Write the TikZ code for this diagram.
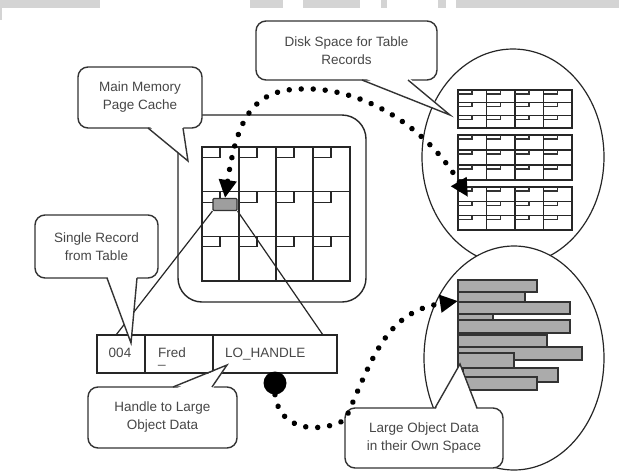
\documentclass[tikz,border=0pt]{standalone}
\usepackage{fontspec}
\setmainfont{Liberation Sans}
\usetikzlibrary{arrows.meta}

% tail of a speech-bubble callout: base points x1,x2 on edge y, inner y, tip
\newcommand\calltail[5]{%
  \fill[white] (#1,#4) -- #5 -- (#2,#4) -- cycle;
  \draw[tailline] (#1,#3) -- #5 -- (#2,#3);}

\begin{document}
\begin{tikzpicture}[x=1pt,y=-1pt,
  ink/.style={draw=black!85, line width=1.2pt},
  tabmark/.style={draw=black!80, line width=1.6pt},
  labeltext/.style={text=black!72, font=\fontsize{13.5}{18}\selectfont},
  callout/.style={draw=black!80, fill=white, line width=1.4pt, rounded corners=10pt,
    inner sep=0pt, align=center, labeltext},
  tailline/.style={draw=black!80, line width=1.4pt, line join=miter},
  cellbox/.style={draw=black!85, line width=1.2pt, inner sep=0pt, minimum height=38pt},
  lobar/.style={draw=black!80, fill=black!33, line width=1.1pt},
  dotpath/.style={black, line width=5.5pt, line cap=round, dash pattern=on 0.01pt off 12pt},
  bigtip/.style={-{Triangle[length=18pt,width=17pt]}},
  twotips/.style={{Triangle[length=18pt,width=17pt]}-{Triangle[length=18pt,width=17pt]}}
]
\useasboundingbox (0,0) rectangle (619,472);
\fill[white] (0,0) rectangle (619,472);

% grey header band with its lighter lettering
\fill[black!17] (0,0) rectangle (100,8);
\fill[black!17] (250,0) rectangle (283,8);
\fill[black!17] (303,0) rectangle (360,8);
\fill[black!17] (381,0) rectangle (387,8);
\fill[black!17] (438,0) rectangle (446,8);
\fill[black!17] (456,0) rectangle (619,8);
\fill[black!17] (0,8) rectangle (2,20);

% ---------- disk space for table records ----------
\draw[ink] (513,157) ellipse [x radius=91, y radius=108];
\foreach \top/\bot in {90/128, 135/180, 187/230}{
  \pgfmathsetmacro\rh{(\bot-\top)/3}
  \foreach \c in {0,1,2,3}{
    \pgfmathsetmacro\xl{458+28.5*\c}
    \foreach \r in {0,1,2}{
      \draw[ink] (\xl,\top+\r*\rh) rectangle ++(28.5,\rh);
      \draw[tabmark] (\xl,\top+\r*\rh+4) -- ++(14,0) -- ++(0,-4);
    }
  }
}

% ---------- large object storage ----------
\draw[ink, fill=white] (514,358) ellipse [x radius=90, y radius=112];
\foreach \xa/\ya/\xb/\yb in {458/280/537/292, 458/292/525/302, 458/302/570/314,
    458/314/493/320, 458/320/570/333, 458/335/547/347, 458/347/582/360,
    458/353/514/368, 463/368/558/382, 463/377/537/390}
  \draw[lobar] (\xa,\ya) rectangle (\xb,\yb);
\coordinate (lobhit) at (458,301);

% ---------- main memory page cache ----------
\draw[ink, line width=1.4pt, rounded corners=24pt] (178,115) rectangle (366,302);
\foreach \c in {0,1,2,3}{
  \pgfmathsetmacro\xl{202+37*\c}
  \foreach \r in {0,1,2}{
    \pgfmathsetmacro\yt{147+44.667*\r}
    \draw[ink] (\xl,\yt) rectangle ++(37,44.667);
    \draw[ink] (\xl,\yt+10.5) -- ++(18,0) -- ++(0,-10.5);
  }
}
\node[draw=black!80, fill=black!38, line width=1.1pt, rounded corners=1pt,
  minimum width=24pt, minimum height=12pt, inner sep=0pt] (cached) at (225,204.5) {};
\coordinate (diskhit) at (468,197);

% ---------- one record of the table ----------
\node[cellbox, minimum width=48pt]  (rid)     at (121,354) {};
\node[cellbox, minimum width=68pt]  (rname)   at (179,354) {};
\node[cellbox, minimum width=124pt] (rhandle) at (275,354) {};
\node[labeltext, anchor=base, inner sep=0pt] (tid) at (120,357) {004};
\node[labeltext, anchor=base west, inner sep=0pt] (tname) at (158,357)
  {\rlap{\raisebox{-6pt}{\_}}Fred};
\node[labeltext, anchor=base west, inner sep=0pt] (thandle) at (225,357) {LO\_HANDLE};

% magnification lines from the cached record to the full record
\coordinate (zoomleft)  at (116,335);
\coordinate (zoomright) at (323,335);
\draw[ink] (cached.south west) -- (zoomleft);
\draw[ink] (cached.south east) -- (zoomright);

% handle marker
\node[circle, fill=black, minimum size=23pt, inner sep=0pt] (handledot) at (275,383) {};

% ---------- callouts ----------
\node[callout, minimum width=181pt, minimum height=59pt] (cdisk) at (346.5,50.5)
  {Disk Space for Table\\Records};
\calltail{362}{408}{80}{77}{(450,115)}

\node[callout, minimum width=124pt, minimum height=61pt] (cmem) at (140,97.5)
  {Main Memory\\Page Cache};
\calltail{148}{183}{128}{125}{(188,161)}

\node[callout, minimum width=123pt, minimum height=63pt] (crec) at (96.5,246.5)
  {Single Record\\from Table};
\calltail{107}{137}{278}{275}{(131,343)}

\node[callout, minimum width=149pt, minimum height=61pt] (chandle) at (162.5,417.5)
  {Handle to Large\\Object Data};
\calltail{173}{212}{387}{390}{(227,365)}

\node[callout, minimum width=158pt, minimum height=60pt] (clob) at (424,438)
  {Large Object Data\\in their Own Space};
\calltail{435}{477}{408}{411}{(460,364)}

% ---------- dotted data paths ----------
\draw[dotpath, twotips] (cached.north) .. controls (237,120) and (252,90) .. (300,89)
  .. controls (360,86) and (425,125) .. (diskhit);
\draw[dotpath, bigtip] (handledot.south) .. controls (280,432) and (320,433) .. (345,420)
  .. controls (372,360) and (385,312) .. (lobhit);
\end{tikzpicture}
\end{document}
